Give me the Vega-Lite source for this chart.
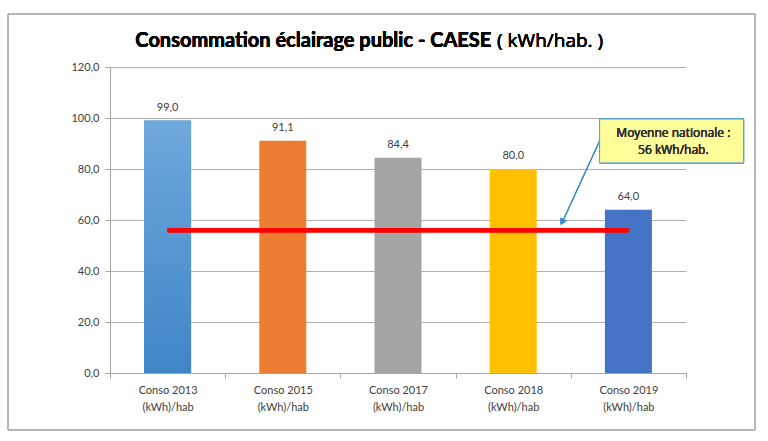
{
  "$schema": "https://vega.github.io/schema/vega-lite/v6.json",
  "width": 576,
  "height": 306,
  "autosize": {"type": "none"},
  "padding": {"left": 110, "top": 67, "right": 82, "bottom": 68},
  "background": "white",
  "config": {
    "locale": {
      "number": {"decimal": ",", "thousands": " ", "grouping": [3], "currency": ["", " €"]}
    },
    "view": {"stroke": null},
    "font": "Lato"
  },
  "data": {
    "values": [
      {"categorie": "Conso 2013 (kWh)/hab", "valeur": 99.0},
      {"categorie": "Conso 2015 (kWh)/hab", "valeur": 91.1},
      {"categorie": "Conso 2017 (kWh)/hab", "valeur": 84.4},
      {"categorie": "Conso 2018 (kWh)/hab", "valeur": 80.0},
      {"categorie": "Conso 2019 (kWh)/hab", "valeur": 64.0}
    ]
  },
  "resolve": {"scale": {"x": "independent"}},
  "layer": [
    {
      "mark": {"type": "bar", "width": 47},
      "encoding": {
        "x": {
          "field": "categorie",
          "type": "nominal",
          "sort": null,
          "scale": {"padding": 0},
          "axis": {
            "title": null,
            "labelAngle": 0,
            "labelExpr": "[substring(datum.label, 0, 10), substring(datum.label, 11)]",
            "labelFontSize": 11,
            "labelColor": "#404040",
            "labelPadding": 6,
            "labelLineHeight": 17,
            "tickBand": "extent",
            "tickSize": 5,
            "tickColor": "#a6a6a6",
            "domainColor": "#a6a6a6",
            "grid": false
          }
        },
        "y": {
          "field": "valeur",
          "type": "quantitative",
          "scale": {"domain": [0, 120], "nice": false},
          "axis": {
            "title": null,
            "values": [0, 20, 40, 60, 80, 100, 120],
            "format": ".1f",
            "labelFontSize": 11,
            "labelColor": "#404040",
            "labelPadding": 6,
            "tickSize": 5,
            "tickColor": "#a6a6a6",
            "domainColor": "#a6a6a6",
            "gridColor": "#b0b0b0"
          }
        },
        "color": {
          "field": "categorie",
          "type": "nominal",
          "scale": {
            "domain": ["Conso 2013 (kWh)/hab", "Conso 2015 (kWh)/hab", "Conso 2017 (kWh)/hab", "Conso 2018 (kWh)/hab", "Conso 2019 (kWh)/hab"],
            "range": ["#5b9bd5", "#ed7d31", "#a5a5a5", "#ffc000", "#4472c4"]
          },
          "legend": null
        }
      }
    },
    {
      "transform": [{"filter": "datum.categorie === 'Conso 2013 (kWh)/hab'"}],
      "mark": {
        "type": "bar",
        "width": 47,
        "color": {
          "gradient": "linear",
          "x1": 0, "y1": 0, "x2": 0, "y2": 1,
          "stops": [
            {"offset": 0, "color": "#6fa8dc"},
            {"offset": 1, "color": "#3f86c7"}
          ]
        }
      },
      "encoding": {
        "x": {
          "field": "categorie",
          "type": "nominal",
          "sort": null,
          "scale": {
            "domain": ["Conso 2013 (kWh)/hab", "Conso 2015 (kWh)/hab", "Conso 2017 (kWh)/hab", "Conso 2018 (kWh)/hab", "Conso 2019 (kWh)/hab"],
            "padding": 0
          },
          "axis": null
        },
        "y": {"field": "valeur", "type": "quantitative"}
      }
    },
    {
      "mark": {"type": "text", "baseline": "bottom", "dy": -8, "fontSize": 11, "color": "#404040"},
      "encoding": {
        "x": {
          "field": "categorie",
          "type": "nominal",
          "sort": null,
          "bandPosition": 0.5,
          "scale": {
            "type": "band",
            "domain": ["Conso 2013 (kWh)/hab", "Conso 2015 (kWh)/hab", "Conso 2017 (kWh)/hab", "Conso 2018 (kWh)/hab", "Conso 2019 (kWh)/hab"],
            "padding": 0
          },
          "axis": null
        },
        "y": {"field": "valeur", "type": "quantitative"},
        "text": {"field": "valeur", "type": "quantitative", "format": ".1f"}
      }
    },
    {
      "mark": {"type": "rule", "color": "#ff0000", "strokeWidth": 4},
      "encoding": {
        "x": {"datum": 0.5, "type": "quantitative", "scale": {"domain": [0, 5], "nice": false, "zero": false}, "axis": null},
        "x2": {"datum": 4.5},
        "y": {"datum": 56, "type": "quantitative"}
      }
    },
    {
      "mark": {"type": "rule", "color": "#3a8dd4", "strokeWidth": 1},
      "encoding": {
        "x": {"datum": 4.25, "type": "quantitative", "scale": {"domain": [0, 5], "nice": false, "zero": false}, "axis": null},
        "x2": {"datum": 3.93},
        "y": {"datum": 91, "type": "quantitative"},
        "y2": {"datum": 59.5}
      }
    },
    {
      "mark": {"type": "point", "shape": "triangle-up", "filled": true, "color": "#3a8dd4", "size": 50, "angle": 205, "opacity": 1},
      "encoding": {
        "x": {"datum": 3.925, "type": "quantitative", "scale": {"domain": [0, 5], "nice": false, "zero": false}, "axis": null},
        "y": {"datum": 59.2, "type": "quantitative"}
      }
    },
    {
      "mark": {"type": "rect", "fill": "#ffff99", "stroke": "#5b9bd5", "strokeWidth": 1},
      "encoding": {
        "x": {"datum": 4.25, "type": "quantitative", "scale": {"domain": [0, 5], "nice": false, "zero": false}, "axis": null},
        "x2": {"datum": 5.5},
        "y": {"datum": 99.6, "type": "quantitative"},
        "y2": {"datum": 82.4}
      }
    },
    {
      "mark": {"type": "text", "align": "center", "baseline": "middle", "font": "Open Sans", "fontSize": 12, "fontWeight": 400, "color": "#333333", "lineHeight": 17},
      "encoding": {
        "x": {"datum": 4.89, "type": "quantitative", "scale": {"domain": [0, 5], "nice": false, "zero": false}, "axis": null},
        "y": {"datum": 94.2, "type": "quantitative"},
        "text": {"value": ["Moyenne nationale :", "56 kWh/hab."]}
      }
    },
    {
      "mark": {"type": "text", "align": "right", "baseline": "alphabetic", "fontSize": 20, "fontWeight": "bold", "color": "#000000"},
      "encoding": {
        "x": {"datum": 3.31, "type": "quantitative", "scale": {"domain": [0, 5], "nice": false, "zero": false}, "axis": null},
        "y": {"datum": 127.9, "type": "quantitative"},
        "text": {"value": "Consommation éclairage public - CAESE"}
      }
    },
    {
      "mark": {"type": "text", "align": "left", "baseline": "alphabetic", "font": "Open Sans", "fontSize": 19, "fontWeight": 400, "color": "#000000"},
      "encoding": {
        "x": {"datum": 3.36, "type": "quantitative", "scale": {"domain": [0, 5], "nice": false, "zero": false}, "axis": null},
        "y": {"datum": 127.9, "type": "quantitative"},
        "text": {"value": "( kWh/hab. )"}
      }
    },
    {
      "mark": {"type": "rect", "fill": null, "stroke": "#b4b4b4", "strokeWidth": 1},
      "encoding": {
        "x": {"datum": -0.885, "type": "quantitative", "scale": {"domain": [0, 5], "nice": false, "zero": false}, "axis": null},
        "x2": {"datum": 5.6},
        "y": {"datum": 140.8, "type": "quantitative"},
        "y2": {"datum": -22.35}
      }
    }
  ]
}
